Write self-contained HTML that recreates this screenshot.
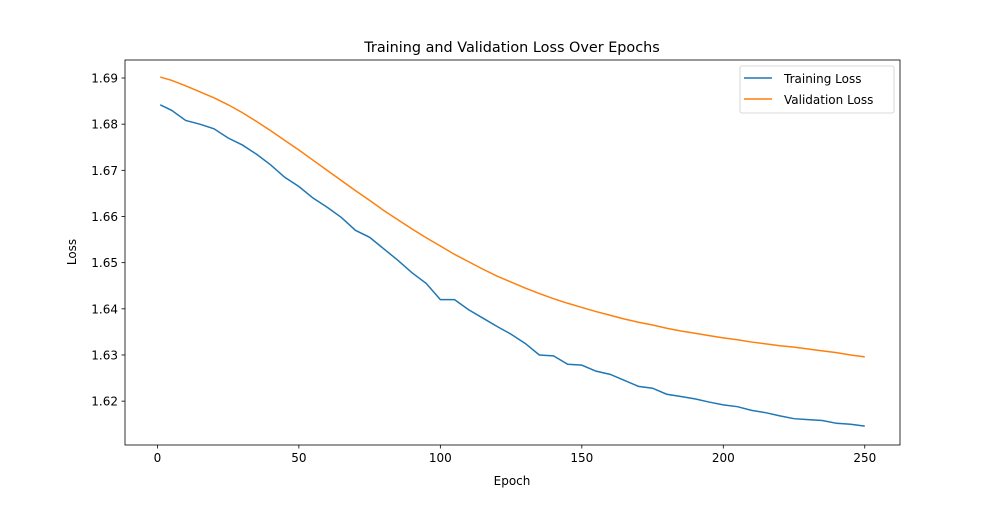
<!DOCTYPE html>
<html><head><meta charset="utf-8"><style>
body{margin:0;background:#fff;}
svg text{font-family:"DejaVu Sans","Liberation Sans",sans-serif;fill:#000;}
</style></head><body>
<svg id="chart" width="1000" height="500" xmlns="http://www.w3.org/2000/svg">
<rect width="1000" height="500" fill="#fff"/>
<text x="512" y="52" font-size="14.4" text-anchor="middle">Training and Validation Loss Over Epochs</text>
<g id="plot"></g>
<rect x="125" y="60" width="775" height="385" fill="none" stroke="#000" stroke-width="0.8"/>
<text x="512" y="485" font-size="12" text-anchor="middle">Epoch</text>
<text x="0" y="0" font-size="12" text-anchor="middle" transform="translate(76,252) rotate(-90)">Loss</text>
<g>
<rect x="740" y="66" width="154" height="47" rx="2" fill="#fff" stroke="#ccc" stroke-width="0.8"/>
<line x1="744" y1="78" x2="772" y2="78" stroke="#1f77b4" stroke-width="1.5"/>
<text x="784" y="83" font-size="12">Training Loss</text>
<line x1="744" y1="99" x2="772" y2="99" stroke="#ff7f0e" stroke-width="1.5"/>
<text x="784" y="104" font-size="12">Validation Loss</text>
</g>
</svg>
<script>
const epochs=[1,5,10,15,20,25,30,35,40,45,50,55,60,65,70,75,80,85,90,95,100,105,110,115,120,125,130,135,140,145,150,155,160,165,170,175,180,185,190,195,200,205,210,215,220,225,230,235,240,245,250];
const trainLoss=[1.6842,1.6830,1.6808,1.6800,1.6790,1.6770,1.6755,1.6735,1.6712,1.6685,1.6665,1.6640,1.6620,1.6598,1.6570,1.6555,1.6530,1.6505,1.6478,1.6455,1.6420,1.6420,1.6398,1.6380,1.6362,1.6345,1.6325,1.6300,1.6298,1.6280,1.6278,1.6265,1.6258,1.6245,1.6232,1.6228,1.6215,1.6210,1.6205,1.6198,1.6192,1.6188,1.6180,1.6175,1.6168,1.6162,1.6160,1.6158,1.6152,1.6150,1.6146];
const valLoss=[1.6902,1.6895,1.6883,1.6870,1.6857,1.6842,1.6825,1.6806,1.6786,1.6765,1.6744,1.6722,1.6700,1.6678,1.6656,1.6635,1.6613,1.6593,1.6573,1.6554,1.6536,1.6518,1.6502,1.6486,1.6471,1.6458,1.6445,1.6433,1.6422,1.6412,1.6403,1.6394,1.6386,1.6378,1.6371,1.6365,1.6358,1.6352,1.6347,1.6342,1.6337,1.6333,1.6328,1.6324,1.6320,1.6317,1.6313,1.6309,1.6305,1.6300,1.6296];
const xTicks=[0,50,100,150,200,250];
const yTicks=[1.62,1.63,1.64,1.65,1.66,1.67,1.68,1.69];
const NS="http://www.w3.org/2000/svg";
const X0=125,X1=900,Y0=60,Y1=445,xMin=-11.45,xMax=262.45,yMin=1.6105,yMax=1.6939;
function sx(v){return X0+(v-xMin)/(xMax-xMin)*(X1-X0);}
function sy(v){return Y1-(v-yMin)/(yMax-yMin)*(Y1-Y0);}
const g=document.getElementById('plot');
function mk(t,a){const e=document.createElementNS(NS,t);for(const k in a)e.setAttribute(k,a[k]);g.appendChild(e);return e;}
xTicks.forEach(t=>{
  const l=mk('line',{x1:sx(t),x2:sx(t),y1:Y1,y2:Y1+3.5,stroke:'#000','stroke-width':0.8});
  
  
  const tx=mk('text',{x:sx(t),y:Y1+17,'font-size':12,'text-anchor':'middle'});
  tx.textContent=t;
  
  
});
yTicks.forEach(t=>{
  const l=mk('line',{x1:X0-3.5,x2:X0,y1:sy(t),y2:sy(t),stroke:'#000','stroke-width':0.8});
  
  
  const tx=mk('text',{x:X0-7,y:sy(t)+4.5,'font-size':12,'text-anchor':'end'});
  tx.textContent=t.toFixed(2);
  
  
});
function line(vals,color,name){
  const p=mk('polyline',{points:epochs.map((e,i)=>sx(e)+','+sy(vals[i])).join(' '),fill:'none',stroke:color,'stroke-width':1.5});
  
  
}
line(trainLoss,'#1f77b4','training-loss-line');
line(valLoss,'#ff7f0e','validation-loss-line');
</script>
</body></html>
